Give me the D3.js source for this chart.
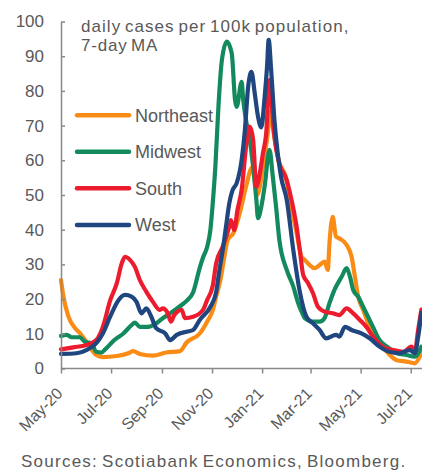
<!DOCTYPE html>
<html><head><meta charset="utf-8">
<script src="https://cdn.jsdelivr.net/npm/d3@7"></script>
<style>
html,body{margin:0;padding:0;background:#fff;}
svg{display:block;font-family:"Liberation Sans",Arial,sans-serif;}
</style></head>
<body>
<svg id="chart" width="422" height="471"></svg>
<script>
const seriesNames = ["Northeast","Midwest","South","West"];
const seriesColors = ["#FA8C16","#138A5E","#EC1C2E","#1F467E"];
const yTicks = [0,10,20,30,40,50,60,70,80,90,100];
const xTickDates = ["2020-05-01","2020-07-01","2020-09-01","2020-11-01","2021-01-01","2021-03-01","2021-05-01","2021-07-01"];
const xTickLabels = ["May-20","Jul-20","Sep-20","Nov-20","Jan-21","Mar-21","May-21","Jul-21"];
const titleLines = ["daily cases per 100k population,","7-day MA"];
const sourceText = "Sources: Scotiabank Economics, Bloomberg.";

const northeast = [["2020-05-01",25.5],["2020-05-04",20.7],["2020-05-10",15],["2020-05-18",11.7],["2020-05-24",10.2],["2020-06-01",7.7],["2020-06-13",3.9],["2020-06-21",3.3],["2020-07-08",3.6],["2020-07-22",4.4],["2020-07-28",5.0],["2020-08-05",4.2],["2020-08-21",3.7],["2020-09-06",4.6],["2020-09-23",5.0],["2020-10-01",7.5],["2020-10-17",10.1],["2020-10-26",13.5],["2020-11-02",16.9],["2020-11-06",20.7],["2020-11-12",26.5],["2020-11-16",32.2],["2020-11-20",37],["2020-11-27",39],["2020-12-05",45],["2020-12-12",52],["2020-12-20",58],["2020-12-26",50],["2021-01-02",58],["2021-01-08",68],["2021-01-11",74],["2021-01-15",68],["2021-01-21",60],["2021-01-30",55],["2021-02-06",46],["2021-02-12",39],["2021-02-18",32.2],["2021-02-22",31.3],["2021-02-28",29.8],["2021-03-06",28.9],["2021-03-12",29.8],["2021-03-18",30.8],["2021-03-22",28.4],["2021-03-24",36],["2021-03-28",43.7],["2021-04-01",38],["2021-04-05",37.5],["2021-04-14",35.6],["2021-04-20",32.2],["2021-04-24",26.5],["2021-04-28",20.7],["2021-05-04",16.9],["2021-05-12",12],["2021-05-21",8.2],["2021-06-02",4.8],["2021-06-14",2.4],["2021-06-26",2.0],["2021-07-06",1.5],["2021-07-12",3.4],["2021-07-14",4.5]];

const midwest = [["2020-05-01",9.4],["2020-05-08",9.7],["2020-05-14",9.0],["2020-05-24",9.0],["2020-05-30",7.7],["2020-06-07",7.3],["2020-06-13",4.8],["2020-06-19",4.6],["2020-06-25",5.8],["2020-07-05",8.2],["2020-07-16",10.1],["2020-07-26",12.5],["2020-07-30",13.2],["2020-08-05",12],["2020-08-15",12],["2020-08-25",13],["2020-09-02",14.5],["2020-09-11",15.9],["2020-09-25",18.3],["2020-10-01",19.5],["2020-10-09",22],["2020-10-17",29],["2020-10-21",32],["2020-10-26",35],["2020-10-30",40],["2020-11-02",48],["2020-11-05",58],["2020-11-09",76.4],["2020-11-13",88.9],["2020-11-19",94.2],["2020-11-25",90.8],["2020-11-29",77.4],["2020-12-01",75.4],["2020-12-07",82.6],["2020-12-09",77.4],["2020-12-13",70.7],["2020-12-17",65.8],["2020-12-21",58.2],["2020-12-25",48.6],["2020-12-27",43.3],["2020-12-31",46.6],["2021-01-04",52.4],["2021-01-10",63],["2021-01-14",55.3],["2021-01-18",46.6],["2021-01-22",37],["2021-01-31",28.4],["2021-02-08",23.6],["2021-02-14",18.8],["2021-02-20",15.4],["2021-02-22",14.5],["2021-03-04",13.5],["2021-03-12",13.5],["2021-03-18",14.5],["2021-03-24",18.8],["2021-03-30",22.6],["2021-04-08",26.5],["2021-04-14",28.9],["2021-04-18",26.5],["2021-04-22",22.6],["2021-04-28",20.7],["2021-05-04",17.8],["2021-05-10",14.9],["2021-05-16",12],["2021-05-24",8.2],["2021-06-02",6.3],["2021-06-14",4.4],["2021-06-26",3.9],["2021-07-06",3.4],["2021-07-14",6.3]];

const south = [["2020-05-01",5.5],["2020-05-16",6.1],["2020-06-01",6.8],["2020-06-13",8.2],["2020-06-21",12],["2020-06-30",19.7],["2020-07-08",24.6],["2020-07-14",30.3],["2020-07-18",32.2],["2020-07-24",31.3],["2020-07-30",29.3],["2020-08-05",25.5],["2020-08-13",22.1],["2020-08-21",19.2],["2020-08-29",16.9],["2020-09-02",17.3],["2020-09-08",15.9],["2020-09-12",13.5],["2020-09-16",15.4],["2020-09-25",16.9],["2020-09-29",14.5],["2020-10-09",14.9],["2020-10-21",16.9],["2020-10-26",19.7],["2020-11-02",24],["2020-11-06",30.3],["2020-11-14",35.1],["2020-11-22",40.9],["2020-11-24",42.8],["2020-11-28",39.9],["2020-12-02",45.7],["2020-12-07",51.4],["2020-12-13",65],["2020-12-17",69.7],["2020-12-21",66],["2020-12-25",52.4],["2020-12-29",56],["2021-01-02",62],["2021-01-06",67.8],["2021-01-10",83.1],["2021-01-12",78.3],["2021-01-16",66.8],["2021-01-22",59.1],["2021-01-31",54.3],["2021-02-04",50.5],["2021-02-12",40.9],["2021-02-16",34],["2021-02-20",27],["2021-02-26",24.6],["2021-03-04",21.7],["2021-03-10",17.8],["2021-03-18",16.4],["2021-03-28",15.9],["2021-04-05",15.4],["2021-04-14",17.3],["2021-04-22",15.9],["2021-04-30",14],["2021-05-08",12],["2021-05-16",9.2],["2021-05-28",6.3],["2021-06-10",5.3],["2021-06-22",4.8],["2021-07-02",6.3],["2021-07-06",4.8],["2021-07-10",11],["2021-07-14",17]];

const west = [["2020-05-01",4.2],["2020-05-20",4.4],["2020-06-01",5.3],["2020-06-13",7.3],["2020-06-21",10.1],["2020-06-30",15],["2020-07-10",19.7],["2020-07-18",21.2],["2020-07-26",20.7],["2020-08-01",19.2],["2020-08-07",15.9],["2020-08-13",17.3],["2020-08-19",14.9],["2020-08-25",11.6],["2020-09-05",10.1],["2020-09-11",8.2],["2020-09-19",9.7],["2020-10-01",10.6],["2020-10-09",11.1],["2020-10-17",14],["2020-10-30",17.8],["2020-11-06",22],["2020-11-10",28.4],["2020-11-14",34.1],["2020-11-18",40.9],["2020-11-22",47.6],["2020-11-26",51.4],["2020-12-01",53.4],["2020-12-07",60],["2020-12-11",68.7],["2020-12-15",81.2],["2020-12-19",85.5],["2020-12-23",79.3],["2020-12-27",72.6],["2020-12-31",69.5],["2021-01-04",78],["2021-01-07",87],["2021-01-09",94.7],["2021-01-12",86],["2021-01-16",71.6],["2021-01-20",62],["2021-01-24",55.3],["2021-01-31",48.6],["2021-02-08",34.1],["2021-02-16",22],["2021-02-24",14.9],["2021-03-04",13],["2021-03-12",11.1],["2021-03-20",8.7],["2021-04-01",9.7],["2021-04-05",9.2],["2021-04-12",12],["2021-04-20",11.1],["2021-05-02",10.1],["2021-05-12",8.7],["2021-05-24",6.3],["2021-06-05",4.8],["2021-06-17",4.4],["2021-06-30",5.3],["2021-07-06",4.4],["2021-07-10",9],["2021-07-14",16]];

const seriesData = [northeast, midwest, south, west];

const parse = d3.utcParse("%Y-%m-%d");
const svg = d3.select("#chart");
const textColor = "#595959";
const axisColor = "#898989";

const x = d3.scaleUtc().domain([parse("2020-05-01"), parse("2021-07-01")]).range([61, 410.7]);
const y = d3.scaleLinear().domain([0, 100]).range([368.5, 21.5]);

// lines
const line = d3.line().x(d => x(parse(d[0]))).y(d => y(d[1])).curve(d3.curveMonotoneX);
svg.append("g").selectAll("path").data(seriesData).join("path")
  .attr("d", line)
  .attr("fill", "none")
  .attr("stroke", (d, i) => seriesColors[i])
  .attr("stroke-width", 4.2)
  .attr("stroke-linejoin", "round")
  .attr("stroke-linecap", "round");

// y axis
const yAxis = svg.append("g").attr("transform", "translate(61,0)")
  .call(d3.axisLeft(y).tickValues(yTicks).tickSizeInner(-4).tickSizeOuter(0).tickPadding(17));
yAxis.select(".domain").attr("stroke", axisColor).attr("stroke-width", 1.5);
yAxis.selectAll(".tick line").attr("stroke", axisColor).attr("stroke-width", 1.5);
yAxis.selectAll(".tick text").attr("fill", textColor).style("font-size", "17px")
  .style("font-family", "'Liberation Sans', Arial, sans-serif");

// x axis
const xAxis = svg.append("g").attr("transform", "translate(0,368.5)")
  .call(d3.axisBottom(x).tickValues(xTickDates.map(parse)).tickSizeInner(5).tickSizeOuter(0).tickFormat((d, i) => xTickLabels[i]));
xAxis.select(".domain").attr("d", "M61,0H422").attr("stroke", axisColor).attr("stroke-width", 1.5);
xAxis.selectAll(".tick line").attr("stroke", axisColor).attr("stroke-width", 1.5);
xAxis.selectAll(".tick text")
  .attr("fill", textColor).style("font-size", "16px")
  .style("font-family", "'Liberation Sans', Arial, sans-serif")
  .attr("text-anchor", "end")
  .attr("x", 0).attr("y", 0).attr("dy", null)
  .attr("transform", "translate(2,26) rotate(-45)");

// title
const title = svg.append("text").attr("fill", textColor).style("font-size", "17px")
  .style("word-spacing", "-2px");
title.append("tspan").attr("x", 81).attr("y", 31.5).style("letter-spacing", "1.05px").text(titleLines[0]);
title.append("tspan").attr("x", 81).attr("y", 51).style("letter-spacing", "0.8px").text(titleLines[1]);

// legend
const legendY = [115.3, 151.7, 188.3, 225];
const leg = svg.append("g").selectAll("g").data(seriesNames).join("g")
  .attr("transform", (d, i) => `translate(0,${legendY[i]})`);
leg.append("line").attr("x1", 77).attr("x2", 129).attr("y1", 0).attr("y2", 0)
  .attr("stroke", (d, i) => seriesColors[i]).attr("stroke-width", 4.5).attr("stroke-linecap", "round");
leg.append("text").attr("x", 135).attr("y", 0).attr("dy", "0.35em")
  .attr("fill", textColor).style("font-size", "18px").text(d => d);

// source
svg.append("text").attr("x", 21).attr("y", 466.5).attr("fill", textColor)
  .style("font-size", "17px").style("letter-spacing", "1.25px").style("word-spacing", "-2px")
  .text(sourceText);
</script>
</body></html>
